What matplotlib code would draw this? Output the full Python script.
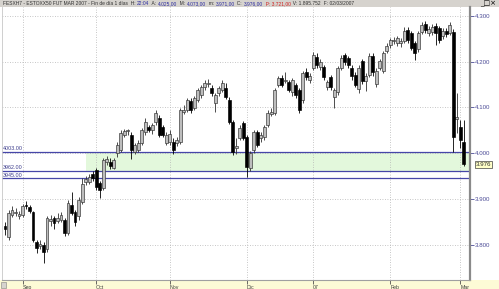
import numpy as np
import matplotlib
matplotlib.use("Agg")
import matplotlib.pyplot as plt
from matplotlib.patches import Rectangle

plt.rcParams["font.family"] = ["Liberation Sans", "DejaVu Sans"]

# daily candles FESX H7, 25/08/2006 .. 02/03/2007
opens = [3841, 3817, 3865, 3869, 3862, 3865, 3887, 3882, 3871, 3806,
         3797, 3799, 3790, 3852, 3858, 3852, 3854, 3854, 3826, 3887,
         3872, 3862, 3893, 3936, 3938, 3954, 3963, 3934, 3924, 3980,
         3981, 3968, 4000, 4007, 4040, 4048, 4040, 4003, 4007, 4022,
         4046, 4057, 4051, 4068, 4077, 4057, 4022, 4024, 4024, 4022,
         4024, 4090, 4094, 4114, 4098, 4116, 4127, 4144, 4151, 4142,
         4109, 4131, 4138, 4142, 4116, 4068, 4011, 4033, 4066, 4035,
         3967, 4007, 4046, 4033, 4035, 4062, 4085, 4088, 4149, 4164,
         4158, 4155, 4133, 4149, 4138, 4116, 4177, 4160, 4186, 4210,
         4188, 4188, 4144, 4166, 4123, 4133, 4186, 4214, 4208, 4186,
         4171, 4140, 4201, 4157, 4171, 4212, 4150, 4186, 4179, 4223,
         4236, 4245, 4240, 4240, 4245, 4269, 4262, 4240, 4227, 4265,
         4282, 4262, 4265, 4278, 4273, 4256, 4267, 4262, 4265, 4075,
         4057, 4025]
closes = [3834, 3869, 3876, 3871, 3867, 3885, 3885, 3874, 3810, 3793,
          3802, 3784, 3858, 3856, 3848, 3858, 3865, 3826, 3891, 3870,
          3850, 3898, 3932, 3943, 3947, 3945, 3926, 3919, 3985, 3987,
          3972, 3985, 4018, 4044, 4048, 4050, 4007, 4018, 4022, 4051,
          4068, 4051, 4062, 4088, 4040, 4040, 4040, 4042, 4007, 4029,
          4094, 4094, 4116, 4094, 4120, 4138, 4144, 4153, 4153, 4131,
          4127, 4142, 4153, 4123, 4068, 4002, 4015, 4055, 4033, 3970,
          4000, 4046, 4018, 4040, 4057, 4088, 4090, 4138, 4164, 4149,
          4160, 4138, 4160, 4127, 4094, 4175, 4166, 4168, 4214, 4192,
          4199, 4166, 4155, 4144, 4138, 4186, 4208, 4199, 4192, 4168,
          4149, 4186, 4157, 4168, 4212, 4177, 4180, 4201, 4219, 4234,
          4247, 4247, 4251, 4245, 4267, 4247, 4230, 4219, 4262, 4280,
          4269, 4270, 4276, 4262, 4247, 4267, 4260, 4280, 4036, 4079,
          4029, 3976]
highs = [3850, 3876, 3885, 3880, 3874, 3889, 3895, 3887, 3874, 3810,
         3810, 3806, 3862, 3865, 3862, 3869, 3871, 3858, 3898, 3915,
         3876, 3905, 3945, 3950, 3954, 3960, 3967, 3940, 3989, 3994,
         3990, 3990, 4025, 4050, 4053, 4053, 4046, 4022, 4029, 4055,
         4077, 4062, 4066, 4094, 4083, 4062, 4046, 4051, 4033, 4035,
         4098, 4105, 4120, 4120, 4125, 4142, 4149, 4160, 4162, 4149,
         4131, 4147, 4160, 4153, 4123, 4072, 4033, 4062, 4070, 4040,
         4005, 4051, 4051, 4046, 4062, 4094, 4098, 4142, 4168, 4170,
         4177, 4160, 4164, 4153, 4142, 4179, 4186, 4175, 4221, 4219,
         4205, 4192, 4160, 4170, 4142, 4190, 4214, 4219, 4212, 4192,
         4177, 4192, 4205, 4175, 4219, 4219, 4186, 4205, 4223, 4240,
         4251, 4254, 4256, 4251, 4276, 4276, 4267, 4245, 4267, 4287,
         4289, 4278, 4282, 4285, 4278, 4273, 4273, 4287, 4270, 4131,
         4072, 4073]
lows = [3822, 3810, 3860, 3862, 3856, 3860, 3878, 3869, 3806, 3782,
        3790, 3760, 3784, 3840, 3835, 3848, 3850, 3820, 3822, 3865,
        3840, 3855, 3889, 3930, 3932, 3940, 3920, 3902, 3919, 3974,
        3965, 3965, 3992, 4002, 4035, 4040, 3987, 3998, 4003, 4018,
        4040, 4046, 4042, 4062, 4035, 4035, 4018, 4018, 3998, 4015,
        4020, 4085, 4090, 4088, 4094, 4112, 4120, 4138, 4145, 4125,
        4090, 4125, 4133, 4118, 4064, 3996, 3998, 4029, 4029, 3947,
        3960, 4000, 4013, 4024, 4029, 4057, 4080, 4083, 4144, 4144,
        4153, 4133, 4125, 4120, 4088, 4109, 4160, 4153, 4181, 4186,
        4181, 4160, 4138, 4138, 4098, 4127, 4181, 4192, 4186, 4160,
        4144, 4131, 4151, 4136, 4166, 4168, 4144, 4181, 4175, 4219,
        4230, 4238, 4234, 4232, 4240, 4240, 4225, 4203, 4221, 4260,
        4262, 4256, 4258, 4236, 4240, 4250, 4254, 4258, 4003, 4044,
        4011, 3971]

month_labels = ["Sep", "Oct", "Nov", "Dic", "07", "Feb", "Mar"]
month_idx = [5, 26, 47, 69, 88, 110, 130]

levels = [4003, 3962, 3945]
zone = (3962, 4003)
zone_start = 23
price_ticks = [3800, 3900, 4000, 4100, 4200, 4300]
last_close = closes[-1]

header = [("FESXH7 - ESTOXX50 FUT MAR 2007 - Fin de día 1 días  H: ", "#303030"),
          ("22:04", "#2a2aa0"), ("  A: ", "#303030"), ("4.025,00", "#2a2aa0"),
          ("  M: ", "#303030"), ("4.073,00", "#2a2aa0"), ("  m: ", "#303030"),
          ("3.971,00", "#2a2aa0"), ("  C: ", "#303030"), ("3.976,00", "#2a2aa0"),
          ("  P: 3.721,00", "#d02020"), ("  V: 1.895.752", "#303030"),
          ("  F: 02/03/2007", "#303030")]

W, H = 499, 289
fig = plt.figure(figsize=(W / 100, H / 100), dpi=100)
fig.patch.set_facecolor("white")

# title bar and bottom date strip (behind the axes)
fig.add_artist(Rectangle((0, 1 - 7 / H), 1, 7 / H, transform=fig.transFigure,
                         fc="#d6d3ce", ec="none", zorder=-2))
fig.add_artist(Rectangle((0, 0), 1, 9 / H, transform=fig.transFigure,
                         fc="#fdfbd6", ec="none", zorder=-2))
fig.add_artist(Rectangle((1 / W, 1 / H), 5 / W, 6 / H, transform=fig.transFigure,
                         fc="#d6d3ce", ec="#808080", lw=0.4, zorder=-1))

ax = fig.add_axes([2 / W, 9 / H, 468 / W, 273 / H])
ax.set_facecolor("white")

x = np.arange(len(closes))
o = np.array(opens)
c = np.array(closes)
up = c >= o

ax.set_xlim(-0.91, 132.8)
ax.set_ylim(3723, 4319)

ax.axhspan(zone[0], zone[1], xmin=(zone_start + 0.91) / 133.71,
           color="#e3f8dc", zorder=0, lw=0)
for lv in levels:
    ax.axhline(lv, color="#4646a8", lw=0.9, zorder=1)
    ax.text(0.002, lv + 1.5, f"{lv}.00", transform=ax.get_yaxis_transform(),
            fontsize=3.9, color="#3c3c8c", va="bottom", ha="left")

ax.vlines(x[up], np.array(lows)[up], np.array(highs)[up], color="#303030", lw=0.6, zorder=2)
ax.vlines(x[~up], np.array(lows)[~up], np.array(highs)[~up], color="black", lw=0.6, zorder=2)
body = np.maximum(np.abs(c - o), 1.5)
ax.bar(x[up], body[up], bottom=o[up], width=0.75, color="#bdbdbd",
       edgecolor="#303030", lw=0.45, zorder=3)
ax.bar(x[~up], body[~up], bottom=c[~up], width=0.75, color="black",
       edgecolor="black", lw=0.45, zorder=3)

ax.set_xticks(month_idx)
ax.set_xticklabels(month_labels)
for lbl in ax.get_xticklabels():
    lbl.set_ha("left")
ax.tick_params(axis="x", direction="out", length=3, width=0.6, color="#505050",
               labelsize=3.8, labelcolor="#404040", pad=0.3)
ax.yaxis.tick_right()
ax.set_yticks(price_ticks)
ax.set_yticklabels([f"{v:,}".replace(",", ".") for v in price_ticks])
ax.tick_params(axis="y", direction="out", length=3, width=0.6, color="#4b4b96",
               labelsize=4.4, labelcolor="#4b4b96", pad=0.5)
ax.grid(True, ls=(0, (1, 2)), color="#b4b4b4", lw=0.6)
ax.set_axisbelow(True)

ax.spines["top"].set_visible(False)
ax.spines["left"].set_color("#c8c8c8")
ax.spines["left"].set_linewidth(0.6)
ax.spines["bottom"].set_color("#a0a0a0")
ax.spines["bottom"].set_linewidth(0.8)
ax.spines["right"].set_color("#8a8a8a")
ax.spines["right"].set_linewidth(1.6)

ax.text(1.012, last_close, f"{last_close / 1000:.3f}", transform=ax.get_yaxis_transform(),
        fontsize=4.4, color="#303030", va="center", ha="left",
        bbox=dict(boxstyle="square,pad=0.15", fc="#ffffc8", ec="#404040", lw=0.5))

# title text, pieces placed one after another
fig.canvas.draw()
r = fig.canvas.get_renderer()
xp = 3
for s, col in header:
    t = fig.text(xp / W, 1 - 3.6 / H, s, fontsize=3.55, color=col, va="center", ha="left")
    xp += t.get_window_extent(renderer=r).width
fig.text(0.962, 0.988, "_□×", fontsize=5, color="black",
         va="center", ha="left", family="DejaVu Sans")

fig.savefig("out.png", dpi=100)
